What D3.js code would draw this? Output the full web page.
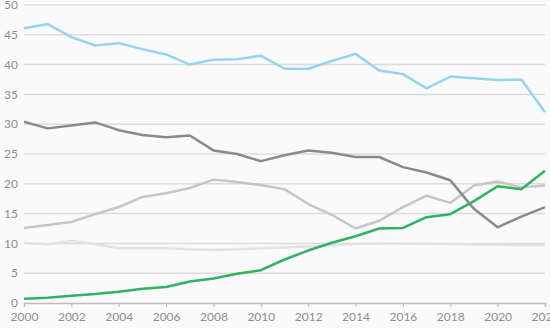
<!DOCTYPE html>
<html><head><meta charset="utf-8">
<script src="https://cdn.jsdelivr.net/npm/d3@7"></script>
<style>
html,body{margin:0;padding:0;background:#fafafa;}
svg{display:block;font-family:Lato,"Open Sans",sans-serif;}
</style></head>
<body>
<script>
const years = d3.range(2000, 2023);
const yTicks = [0,5,10,15,20,25,30,35,40,45,50];
const xTicks = [2000,2002,2004,2006,2008,2010,2012,2014,2016,2018,2020,2022];
const seriesNames = ["veryLight","lightGray","darkGray","blue","green"];
const veryLight = [10.1,9.8,10.4,9.9,9.2,9.2,9.2,9.0,8.9,9.0,9.2,9.3,9.5,9.7,9.9,10.0,10.0,9.9,9.9,9.8,9.8,9.7,9.7];
const lightGray = [12.6,13.1,13.6,14.9,16.1,17.8,18.4,19.3,20.7,20.3,19.8,19.1,16.6,14.8,12.5,13.8,16.1,18.0,16.8,19.7,20.4,19.4,19.7];
const darkGray = [30.4,29.3,29.8,30.3,29.0,28.2,27.8,28.1,25.6,25.0,23.8,24.8,25.6,25.2,24.5,24.5,22.8,21.9,20.6,15.8,12.7,14.5,16.1];
const blue = [46.1,46.8,44.6,43.2,43.6,42.6,41.7,40.0,40.8,40.9,41.5,39.3,39.3,40.6,41.8,39.0,38.4,36.0,38.0,37.7,37.4,37.5,32.0];
const green = [0.7,0.9,1.2,1.5,1.9,2.4,2.7,3.6,4.1,4.9,5.5,7.3,8.8,10.1,11.2,12.5,12.6,14.4,14.9,17.1,19.6,19.1,22.2];
const colors = {veryLight:"#e2e2e2", lightGray:"#c6c6c6", darkGray:"#8a8a8a", blue:"#94d4f4", green:"#2fb360"};
const data = {veryLight, lightGray, darkGray, blue, green};

const W = 550, H = 328;
const svg = d3.select("body").append("svg").attr("width", W).attr("height", H);
const x = d3.scaleLinear().domain([2000, 2022]).range([24, 545]);
const y = d3.scaleLinear().domain([0, 50]).range([303, 5]);

// grid
svg.append("g").selectAll("line").data(yTicks.filter(d => d > 0)).join("line")
  .attr("x1", 24).attr("x2", 545).attr("y1", d => y(d)).attr("y2", d => y(d))
  .attr("stroke", "#dcdcdc").attr("stroke-width", 1.5);

// y labels
svg.append("g").selectAll("text").data(yTicks).join("text")
  .attr("x", 18).attr("y", d => y(d)).attr("dy", d => d === 0 ? "0.3em" : "0.35em").attr("text-anchor", "end")
  .attr("fill", "#8e8e8e").attr("font-size", 12).text(d => d);

// x axis
const xAxis = d3.axisBottom(x).tickValues(xTicks).tickFormat(d3.format("d")).tickSize(4).tickPadding(5);
const gx = svg.append("g").attr("transform", `translate(0,${y(0)})`).call(xAxis);
gx.select(".domain").attr("stroke", "#bdbdbd").attr("stroke-width", 1.5);
gx.selectAll(".tick line").attr("stroke", "#bdbdbd");
gx.selectAll(".tick text").attr("fill", "#8e8e8e").attr("font-size", 12).attr("font-family", "Lato,'Open Sans',sans-serif");

const line = d3.line().x((d, i) => x(years[i])).y(d => y(d));
seriesNames.forEach(n => {
  svg.append("path").datum(data[n]).attr("d", line)
    .attr("fill", "none").attr("stroke", colors[n]).attr("stroke-width", 2.5)
    .attr("stroke-linejoin", "round");
});
</script>
</body></html>
